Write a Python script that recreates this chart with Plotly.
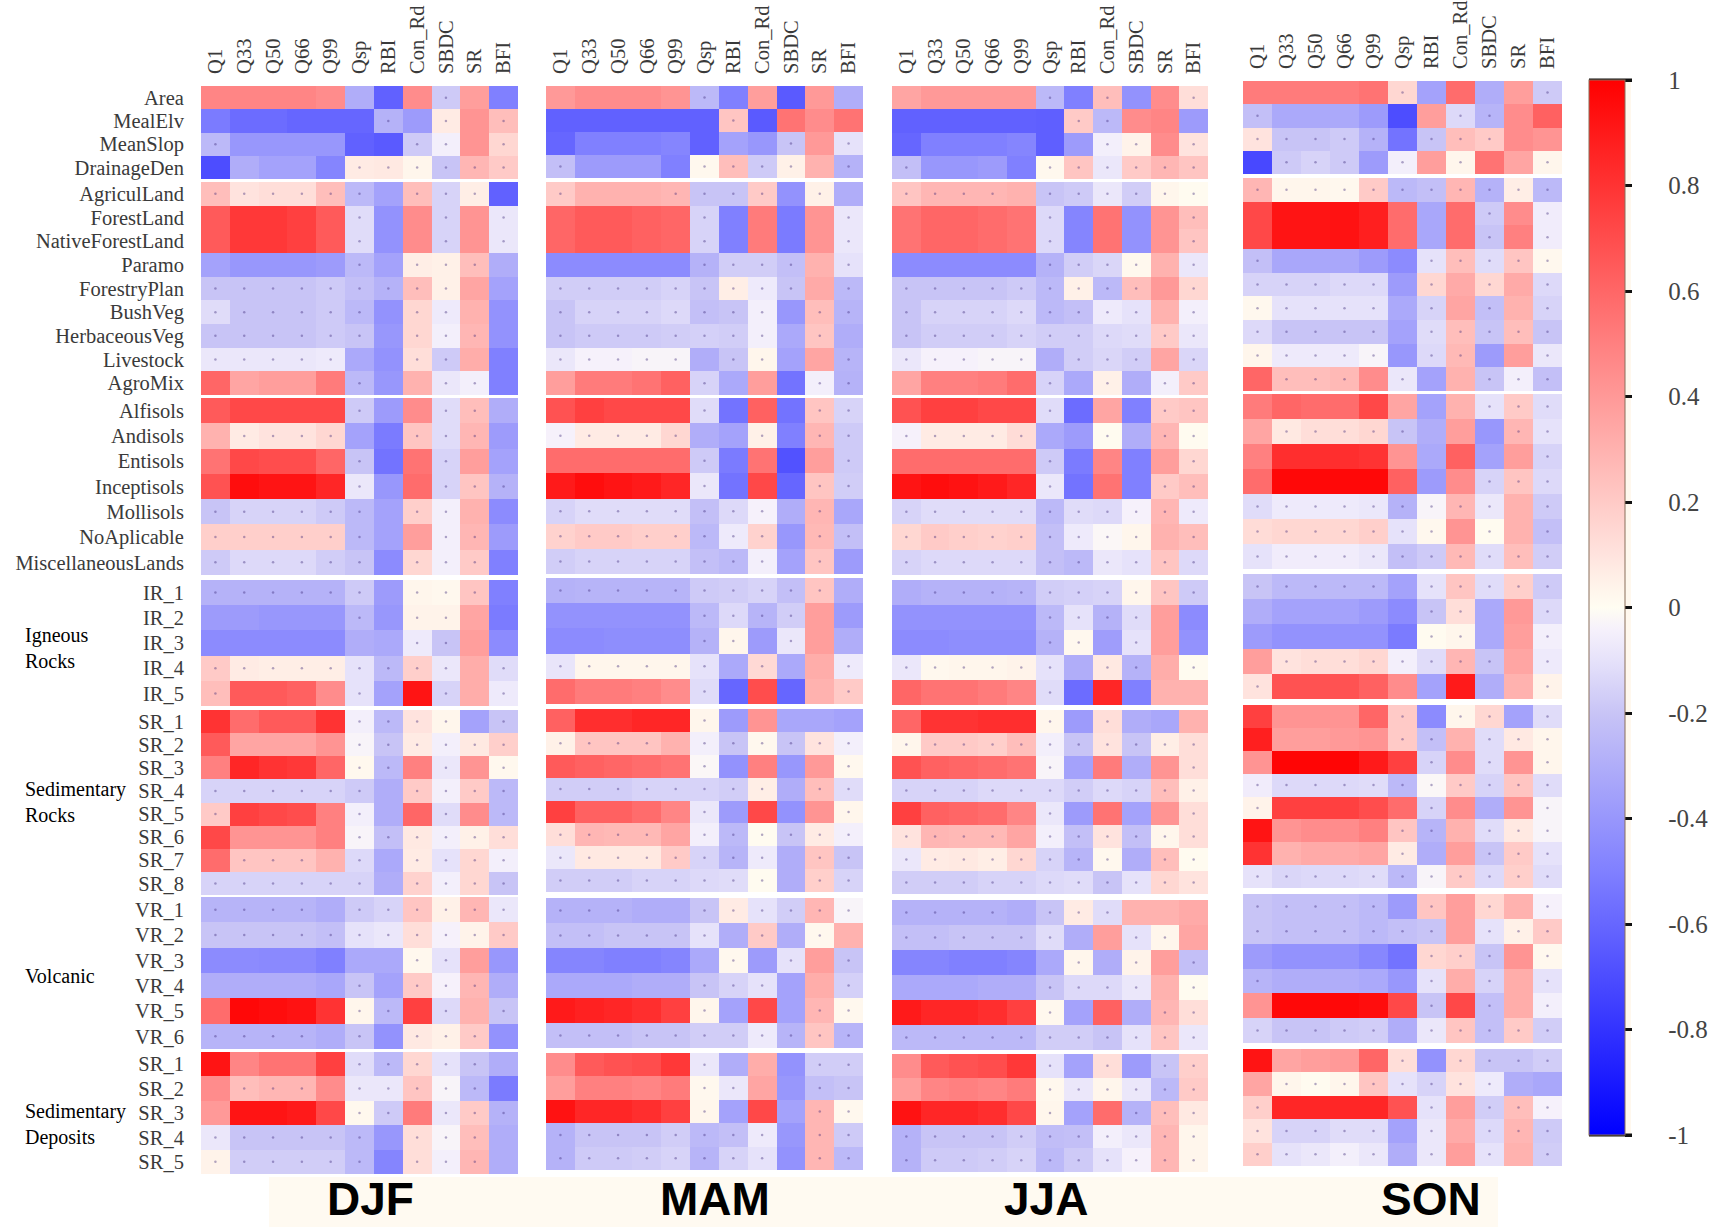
import plotly.graph_objects as go

COLUMNS = ["Q1", "Q33", "Q50", "Q66", "Q99", "Qsp", "RBI", "Con_Rd", "SBDC", "SR", "BFI"]
ROWS_A = ["Area", "MealElv", "MeanSlop", "DrainageDen"]
ROWS_B = ["AgriculLand", "ForestLand", "NativeForestLand", "Paramo", "ForestryPlan", "BushVeg", "HerbaceousVeg", "Livestock", "AgroMix"]
ROWS_C = ["Alfisols", "Andisols", "Entisols", "Inceptisols", "Mollisols", "NoAplicable", "MiscellaneousLands"]
ROWS_D = ["IR_1", "IR_2", "IR_3", "IR_4", "IR_5"]
ROWS_E = ["SR_1", "SR_2", "SR_3", "SR_4", "SR_5", "SR_6", "SR_7", "SR_8"]
ROWS_F = ["VR_1", "VR_2", "VR_3", "VR_4", "VR_5", "VR_6"]
ROWS_G = ["SR_1", "SR_2", "SR_3", "SR_4", "SR_5"]
ROW_GROUPS = [ROWS_A, ROWS_B, ROWS_C, ROWS_D, ROWS_E, ROWS_F, ROWS_G]
SEASONS = ["DJF", "MAM", "JJA", "SON"]
CBAR_TICKS = [1, 0.8, 0.6, 0.4, 0.2, 0, -0.2, -0.4, -0.6, -0.8, -1]
CBAR_TEXT = ["1", "0.8", "0.6", "0.4", "0.2", "0", "-0.2", "-0.4", "-0.6", "-0.8", "-1"]

DJF = [
[.48,.48,.48,.48,.45,-.3,-.62,.45,-.18,.38,-.5],
[-.52,-.58,-.58,-.6,-.6,-.6,-.28,-.38,.07,.42,.25],
[-.25,-.4,-.4,-.4,-.4,-.62,-.65,-.18,-.05,.42,.15],
[-.7,-.3,-.35,-.35,-.48,.07,.08,.03,-.2,.28,.2],
[.25,.1,.12,.12,.25,-.25,-.35,.25,-.15,.06,-.62],
[.65,.78,.78,.75,.65,-.12,-.42,.45,-.15,.42,-.08],
[.65,.78,.78,.75,.65,-.12,-.42,.45,-.15,.42,-.08],
[-.35,-.4,-.4,-.4,-.38,-.25,-.35,.06,.05,.25,-.3],
[-.2,-.2,-.2,-.2,-.18,-.22,-.28,.25,.05,.35,-.35],
[-.12,-.2,-.2,-.2,-.18,-.25,-.42,.15,-.07,.3,-.42],
[-.2,-.2,-.2,-.2,-.18,-.2,-.4,.15,-.05,.28,-.42],
[-.08,-.08,-.08,-.08,-.07,-.32,-.42,.12,-.18,.32,-.5],
[.6,.35,.38,.38,.52,-.25,-.4,.3,-.08,-.05,-.5],
[.65,.72,.72,.72,.72,-.18,-.38,.45,-.12,.25,-.3],
[.3,.07,.1,.1,.15,-.35,-.52,.22,-.12,.28,-.38],
[.55,.72,.7,.7,.6,-.2,-.55,.55,-.15,.38,-.35],
[.68,.95,.92,.92,.85,-.08,-.4,.58,-.15,.22,-.28],
[-.2,-.15,-.15,-.15,-.18,-.25,-.35,.18,-.05,.3,-.45],
[.18,.18,.18,.18,.18,-.25,-.35,.38,-.05,.28,-.38],
[-.18,-.13,-.13,-.13,-.17,-.2,-.45,.15,-.05,.2,-.5],
[-.28,-.28,-.28,-.28,-.28,-.18,-.38,.03,.02,.22,-.5],
[-.38,-.38,-.4,-.4,-.4,-.25,-.4,.04,.04,.35,-.52],
[-.45,-.45,-.45,-.45,-.45,-.3,-.32,-.07,-.2,.38,-.45],
[.2,.07,.06,.06,.06,-.1,-.25,.18,-.08,.32,-.12],
[.25,.65,.65,.62,.45,-.1,-.35,.92,-.15,.32,-.07],
[.8,.58,.65,.65,.8,-.05,-.25,.1,.03,-.35,-.2],
[.65,.35,.35,.35,.42,-.03,-.2,.07,-.05,.08,.18],
[.5,.85,.8,.78,.6,.02,-.25,.5,-.08,.42,.02],
[-.15,-.15,-.15,-.15,-.15,-.18,-.3,.2,-.05,.2,-.25],
[.2,.75,.72,.7,.5,-.05,-.3,.6,-.12,.45,-.25],
[.72,.42,.42,.42,.5,-.03,-.22,.08,-.05,.05,.12],
[.58,.22,.22,.22,.3,-.13,-.32,.07,-.1,.15,-.05],
[-.15,-.15,-.15,-.15,-.15,-.15,-.3,.17,-.05,.15,-.2],
[-.27,-.27,-.27,-.27,-.3,-.18,-.15,.22,.05,.28,-.08],
[-.2,-.2,-.2,-.2,-.22,-.1,-.08,.12,-.04,.04,.2],
[-.45,-.45,-.46,-.46,-.5,-.32,-.32,.02,-.1,.38,-.4],
[-.3,-.3,-.3,-.3,-.33,-.2,-.35,.2,-.04,.28,-.3],
[.58,.97,.95,.93,.8,.03,-.25,.75,-.13,.3,-.2],
[-.27,-.27,-.27,-.27,-.3,-.2,-.42,.08,.05,.2,-.42],
[.92,.48,.55,.55,.75,-.12,-.25,.15,-.1,-.2,-.3],
[.45,.25,.28,.28,.45,-.08,-.08,.22,-.03,-.25,-.52],
[.4,.92,.92,.9,.72,.02,-.18,.52,-.08,.2,-.28],
[-.08,-.2,-.2,-.2,-.2,-.25,-.4,.12,-.03,.25,-.3],
[.04,-.17,-.17,-.17,-.17,-.25,-.48,.12,-.05,.28,-.3],
]
MAM = [
[.4,.45,.45,.45,.42,-.25,-.5,.38,-.65,.4,-.3],
[-.62,-.62,-.62,-.62,-.62,-.62,.22,-.65,.55,.45,.55],
[-.6,-.5,-.5,-.5,-.48,-.62,-.35,-.4,-.2,.4,-.1],
[-.22,-.38,-.38,-.38,-.5,.02,.25,-.18,.05,.3,-.28],
[.2,.3,.3,.3,.28,-.2,-.2,.2,-.42,.05,-.3],
[.6,.65,.65,.62,.6,-.15,-.5,.52,-.52,.42,-.08],
[.6,.65,.65,.62,.6,-.15,-.5,.52,-.52,.42,-.08],
[-.45,-.45,-.45,-.45,-.45,-.28,-.17,-.17,-.22,.3,-.1],
[-.17,-.17,-.17,-.17,-.15,-.2,.06,-.07,-.2,.33,-.25],
[-.2,-.15,-.15,-.15,-.13,-.22,-.2,-.05,-.4,.25,-.27],
[-.2,-.18,-.18,-.18,-.17,-.16,-.17,-.05,-.32,.22,-.3],
[-.08,-.04,-.04,-.03,-.03,-.3,-.2,.03,-.35,.35,-.27],
[.38,.52,.52,.55,.62,-.15,-.32,.38,-.55,-.05,-.28],
[.68,.75,.72,.72,.72,-.12,-.55,.62,-.55,.22,-.15],
[-.04,.07,.07,.07,.15,-.3,-.35,.05,-.5,.28,-.18],
[.58,.58,.58,.58,.58,-.18,-.52,.55,-.68,.38,-.18],
[.9,.95,.92,.9,.85,-.08,-.55,.72,-.6,.22,-.17],
[-.15,-.12,-.12,-.12,-.12,-.22,-.13,-.04,-.3,.28,-.33],
[.17,.2,.2,.18,.18,-.25,-.07,.17,-.4,.27,-.22],
[-.17,-.15,-.15,-.15,-.15,-.22,-.25,-.05,-.35,.22,-.38],
[-.28,-.27,-.27,-.27,-.27,-.18,-.17,-.15,-.22,.22,-.3],
[-.42,-.42,-.42,-.42,-.42,-.25,-.13,-.27,-.17,.38,-.38],
[-.45,-.45,-.44,-.44,-.44,-.28,.03,-.38,-.08,.38,-.3],
[-.09,.03,.03,.03,.03,-.1,-.32,.14,-.32,.32,-.07],
[.58,.52,.52,.5,.45,-.12,-.6,.7,-.6,.3,.2],
[.62,.82,.82,.85,.85,.03,-.38,.42,-.33,-.33,-.35],
[.05,.22,.22,.22,.3,-.05,-.2,.02,-.2,.1,-.05],
[.65,.62,.6,.58,.55,-.02,-.42,.5,-.4,.4,.02],
[-.17,-.17,-.17,-.15,-.15,-.15,-.17,.06,-.3,.25,-.12],
[.75,.62,.62,.58,.48,-.08,-.38,.72,-.42,.42,.03],
[.12,.28,.27,.27,.35,-.05,-.25,.01,-.2,.07,-.05],
[-.08,.08,.08,.08,.2,-.15,-.27,-.07,-.3,.22,-.2],
[-.17,-.17,-.17,-.15,-.15,-.13,-.12,.01,-.3,.18,-.15],
[-.28,-.28,-.28,-.3,-.3,-.2,.07,-.1,-.17,.28,-.03],
[-.22,-.22,-.2,-.2,-.2,-.1,-.3,.2,-.3,.02,.3],
[-.48,-.48,-.5,-.5,-.48,-.32,.02,-.38,-.1,.38,-.2],
[-.32,-.32,-.32,-.3,-.3,-.2,-.15,-.1,-.35,.32,-.16],
[.9,.87,.85,.82,.75,.03,-.35,.72,-.35,.28,.02],
[-.22,-.22,-.22,-.2,-.2,-.17,-.17,-.07,-.27,.22,-.27],
[.45,.65,.68,.7,.78,-.08,-.3,.32,-.42,-.17,-.17],
[.38,.5,.5,.48,.52,.02,-.08,.35,-.4,-.22,-.2],
[.93,.85,.85,.82,.75,.03,-.35,.72,-.35,.28,.02],
[-.28,-.2,-.2,-.2,-.17,-.25,-.22,-.07,-.4,.28,-.18],
[-.28,-.18,-.18,-.17,-.15,-.27,-.15,-.1,-.42,.28,-.25],
]
JJA = [
[.35,.4,.4,.4,.4,-.25,-.5,.25,-.42,.45,.12],
[-.62,-.62,-.62,-.62,-.62,-.63,.2,-.25,.45,.48,-.38],
[-.6,-.5,-.5,-.5,-.48,-.63,-.38,-.05,.04,.45,.1],
[-.22,-.4,-.4,-.38,-.5,.02,.22,-.08,.2,.28,.22],
[.22,.28,.28,.28,.3,-.2,-.18,-.08,-.17,.03,.01],
[.55,.6,.6,.58,.55,-.13,-.48,.55,-.42,.42,.25],
[.55,.6,.6,.58,.55,-.13,-.48,.55,-.42,.42,.22],
[-.45,-.45,-.45,-.45,-.45,-.28,-.17,-.14,.02,.3,-.08],
[-.2,-.2,-.2,-.2,-.18,-.25,.05,-.25,.25,.4,.15],
[-.2,-.15,-.15,-.15,-.13,-.25,-.22,-.07,-.1,.3,-.05],
[-.2,-.17,-.17,-.17,-.15,-.17,-.17,-.13,-.12,.2,-.08],
[-.08,-.04,-.04,-.03,-.03,-.3,-.17,-.14,-.17,.35,-.14],
[.35,.5,.5,.52,.58,-.15,-.32,.05,-.3,-.05,.2],
[.68,.75,.75,.72,.72,-.12,-.58,.35,-.5,.2,.22],
[-.04,.07,.07,.07,.13,-.32,-.38,.01,-.3,.28,.01],
[.58,.58,.58,.58,.58,-.18,-.52,.48,-.5,.38,.15],
[.92,.95,.93,.9,.85,-.08,-.55,.55,-.5,.2,.25],
[-.15,-.12,-.12,-.12,-.12,-.25,-.12,-.13,-.04,.28,-.07],
[.15,.2,.18,.17,.18,-.22,-.07,-.02,.03,.3,.25],
[-.15,-.13,-.13,-.13,-.13,-.22,-.25,-.08,-.1,.22,-.13],
[-.3,-.28,-.28,-.28,-.27,-.17,-.16,-.15,.03,.22,-.18],
[-.42,-.42,-.42,-.42,-.42,-.25,-.1,-.28,-.12,.38,-.45],
[-.45,-.45,-.44,-.44,-.44,-.28,.02,-.37,-.1,.38,-.42],
[-.08,.02,.03,.03,.04,-.1,-.3,.08,-.28,.32,.01],
[.6,.55,.55,.52,.48,-.12,-.58,.85,-.5,.3,.3],
[.6,.8,.8,.82,.82,.03,-.38,.12,-.3,-.33,.3],
[.03,.2,.2,.18,.25,-.05,-.2,.1,-.2,.06,.12],
[.68,.62,.6,.58,.55,-.03,-.35,.52,-.3,.42,.12],
[-.15,-.15,-.15,-.13,-.13,-.13,-.17,-.13,-.15,.25,.05],
[.75,.62,.6,.58,.48,-.08,-.38,.55,-.35,.42,.12],
[.1,.28,.27,.27,.35,-.05,-.22,.1,-.22,.03,.12],
[-.08,.07,.08,.06,.15,-.15,-.27,.02,-.3,.25,.01],
[-.17,-.17,-.17,-.15,-.15,-.13,-.12,-.2,-.1,.15,.1],
[-.28,-.28,-.28,-.28,-.3,-.2,.07,-.12,.3,.3,.33],
[-.22,-.22,-.2,-.2,-.2,-.12,-.3,.38,-.1,.03,.35],
[-.48,-.48,-.5,-.5,-.48,-.32,.03,-.3,.04,.38,-.22],
[-.32,-.32,-.32,-.3,-.3,-.2,-.13,-.13,-.08,.3,.01],
[.9,.85,.85,.82,.75,.02,-.35,.62,-.3,.28,.12],
[-.25,-.25,-.25,-.25,-.25,-.17,-.17,-.2,-.1,.22,-.08],
[.45,.65,.68,.7,.78,-.1,-.35,.12,-.38,-.2,.18],
[.38,.48,.5,.48,.52,.02,-.08,.03,-.08,-.25,.2],
[.93,.85,.85,.82,.72,.03,-.35,.58,-.28,.25,.08],
[-.28,-.2,-.2,-.2,-.17,-.23,-.22,-.05,-.08,.28,.03],
[-.28,-.18,-.18,-.17,-.15,-.25,-.18,-.1,-.04,.28,.03],
]
SON = [
[.52,.52,.52,.52,.55,.15,-.35,.58,-.3,.38,-.18],
[-.22,-.32,-.32,-.32,-.38,-.7,.38,-.13,-.27,.45,.62],
[.1,-.2,-.2,-.18,-.28,-.55,-.2,.25,.2,.45,.42],
[-.72,-.18,-.15,-.18,-.38,-.05,.38,.03,.55,.35,.03],
[.28,.03,.03,.02,.2,-.25,-.22,.28,-.28,.06,-.25],
[.72,.92,.92,.93,.88,.58,-.33,.58,-.18,.45,-.06],
[.72,.92,.92,.93,.88,.58,-.33,.58,-.2,.5,-.06],
[-.22,-.33,-.33,-.33,-.38,-.45,-.1,.25,-.12,.22,.02],
[-.15,-.15,-.15,-.13,-.13,-.38,.15,.33,.15,.33,-.13],
[.02,-.1,-.1,-.1,-.1,-.32,-.15,.35,-.22,.3,-.15],
[-.13,-.2,-.2,-.2,-.2,-.35,-.12,.25,-.2,.25,-.2],
[.03,-.07,-.07,-.07,-.03,-.4,-.13,.27,-.38,.38,-.08],
[.6,.25,.25,.27,.45,-.08,-.35,.3,-.2,-.05,-.22],
[.52,.6,.58,.58,.72,.35,-.35,.3,-.1,.2,-.12],
[.35,.08,.12,.12,.15,-.2,-.3,.38,-.4,.28,-.1],
[.5,.82,.82,.82,.8,.42,-.32,.62,-.35,.38,-.15],
[.58,.97,.97,.97,.97,.62,-.38,.45,-.15,.22,-.13],
[-.12,-.07,-.07,-.07,-.08,-.28,-.03,.28,-.08,.3,-.18],
[.13,.15,.15,.15,.18,-.1,.02,.42,.01,.3,-.22],
[-.1,-.06,-.06,-.06,-.08,-.22,-.18,.27,-.12,.25,-.17],
[-.2,-.25,-.25,-.25,-.25,-.35,-.1,.22,-.12,.18,-.18],
[-.3,-.35,-.35,-.35,-.38,-.45,-.2,.12,-.32,.4,-.13],
[-.38,-.42,-.42,-.42,-.42,-.52,.01,.03,-.32,.38,-.05],
[.38,.1,.12,.12,.15,-.05,-.12,.28,-.2,.35,-.07],
[.1,.68,.68,.68,.62,.45,-.35,.9,-.3,.3,.04],
[.75,.42,.42,.42,.6,.2,-.45,.03,.15,-.35,-.12],
[.88,.38,.38,.4,.42,.2,-.22,.3,-.12,.08,.03],
[.42,.98,.98,.98,.9,.75,-.15,.45,-.12,.42,.03],
[-.06,-.13,-.13,-.13,-.12,-.25,-.02,.2,-.15,.22,-.12],
[.04,.75,.75,.75,.7,.58,-.15,.45,-.3,.42,-.03],
[.92,.42,.45,.45,.5,.22,-.27,.3,-.12,.08,-.03],
[.8,.3,.33,.33,.35,.07,-.3,.38,-.2,.2,-.1],
[-.1,-.14,-.13,-.13,-.12,-.25,-.03,.2,-.13,.18,-.12],
[-.2,-.22,-.22,-.22,-.25,-.38,.22,.38,.15,.3,-.04],
[-.2,-.22,-.22,-.22,-.25,-.22,-.2,.38,-.1,.05,.2],
[-.38,-.42,-.42,-.42,-.47,-.55,.15,.18,-.2,.42,.02],
[-.27,-.3,-.3,-.3,-.32,-.4,-.1,.32,-.15,.32,-.1],
[.42,.97,.97,.97,.95,.72,-.2,.72,-.22,.32,-.05],
[-.15,-.2,-.2,-.18,-.17,-.3,-.08,.22,-.22,.2,-.17],
[.92,.35,.38,.4,.6,.12,-.42,.15,-.2,-.2,-.17],
[.35,.03,.01,.03,.22,-.1,-.15,.1,-.07,-.3,-.33],
[.18,.85,.85,.85,.85,.68,-.1,.38,-.17,.25,-.04],
[.1,-.15,-.15,-.12,-.12,-.35,-.08,.33,-.13,.28,-.18],
[.18,-.1,-.08,-.05,-.08,-.3,-.08,.38,-.1,.3,-.17],
]
SEASON_DATA = [DJF, MAM, JJA, SON]

# ---------- layout geometry (pixels in the page) ----------
W, H = 1718, 1227
PANEL_X = [(201, 518), (546, 863), (892, 1208), (1243, 1562)]
PANEL_Y = [
    [(86, 179), (182, 395), (398, 575), (580, 706), (710, 895), (897, 1049), (1052, 1174)],
    [(86, 178), (182, 395), (398, 574), (578, 704), (709, 892), (898, 1048), (1053, 1170)],
    [(86, 179), (182, 395), (398, 575), (580, 705), (710, 894), (900, 1050), (1054, 1172)],
    [(81, 174), (178, 391), (394, 569), (574, 699), (705, 888), (894, 1043), (1049, 1166)],
]
SERIF = "Liberation Serif"
TEXT = "#3a3a3a"
COLORSCALE = [
    [0.0, "#0000ff"], [0.25, "#8080ff"], [0.4, "#c8c4f6"], [0.45, "#e6e2fa"], [0.48, "#f6f1fb"],
    [0.5, "#fffdf2"], [0.525, "#fff1e8"], [0.55, "#ffe3de"], [0.75, "#ff8080"], [1.0, "#ff0000"],
]

fig = go.Figure()
layout = {}
n = 0
for s, (name, data) in enumerate(zip(SEASONS, SEASON_DATA)):
    start = 0
    for g, rows in enumerate(ROW_GROUPS):
        n += 1
        z = data[start:start + len(rows)]
        start += len(rows)
        xa, ya = f"x{n}", f"y{n}"
        fig.add_trace(go.Heatmap(z=z, x=COLUMNS, y=rows, xaxis=xa, yaxis=ya,
                                 coloraxis="coloraxis", xgap=0, ygap=0,
                                 hovertemplate="%{y} / %{x}: %{z}<extra>" + name + "</extra>"))
        # faint significance dots in the weak-correlation cells
        dx, dy = [], []
        for r, row in enumerate(z):
            for c, v in enumerate(row):
                if abs(v) < 0.3:
                    dx.append(COLUMNS[c])
                    dy.append(rows[r])
        fig.add_trace(go.Scatter(x=dx, y=dy, xaxis=xa, yaxis=ya, mode="markers", hoverinfo="skip",
                                 marker=dict(size=2.5, color="rgba(60,40,120,0.40)", line_width=0),
                                 showlegend=False))
        x0, x1 = PANEL_X[s]
        y0, y1 = PANEL_Y[s][g]
        layout["xaxis" + ("" if n == 1 else str(n))] = dict(
            domain=[x0 / W, x1 / W], anchor=ya, side="top", type="category",
            categoryorder="array", categoryarray=COLUMNS,
            range=[-0.5, len(COLUMNS) - 0.5],
            tickmode="array", tickvals=COLUMNS, ticktext=COLUMNS,
            showgrid=False, zeroline=False, showline=False,
            visible=g == 0, tickangle=-90, ticks="outside", ticklen=7,
            tickcolor="rgba(0,0,0,0)", tickfont=dict(family=SERIF, size=20.5, color=TEXT))
        layout["yaxis" + ("" if n == 1 else str(n))] = dict(
            domain=[1 - y1 / H, 1 - y0 / H], anchor=xa, type="category",
            categoryorder="array", categoryarray=rows,
            range=[len(rows) - 0.5, -0.5],
            tickmode="array", tickvals=rows, ticktext=rows,
            showgrid=False, zeroline=False, showline=False,
            visible=s == 0, ticks="outside", ticklen=12,
            tickcolor="rgba(0,0,0,0)", tickfont=dict(family=SERIF, size=20.5, color=TEXT))

CB_X0, CB_X1, CB_Y0, CB_Y1 = 1589, 1625, 80, 1135
layout["coloraxis"] = dict(
    cmin=-1, cmax=1, colorscale=COLORSCALE,
    colorbar=dict(
        x=CB_X0 / W, xanchor="left", xpad=0, ypad=0,
        y=1 - CB_Y1 / H, yanchor="bottom",
        len=(CB_Y1 - CB_Y0) / H, lenmode="fraction",
        thickness=CB_X1 - CB_X0, thicknessmode="pixels",
        outlinecolor="#8a6f5a", outlinewidth=1,
        tickvals=CBAR_TICKS,
        ticktext=["\u00a0" * 5 + t for t in CBAR_TEXT],
        ticks="outside", ticklen=7, tickwidth=3, tickcolor="#111111",
        tickfont=dict(family=SERIF, size=25, color="#444444"),
    ),
)

shapes = [
    dict(type="rect", xref="paper", yref="paper", layer="below",
         x0=269 / W, x1=1498 / W, y0=0, y1=1 - 1177 / H,
         fillcolor="#fffaf1", line_width=0),
    dict(type="rect", xref="paper", yref="paper", layer="below",
         x0=CB_X1 / W, x1=(CB_X1 + 6) / W, y0=1 - CB_Y1 / H, y1=1 - CB_Y0 / H,
         fillcolor="#fff8ee", line_width=0),
]
for yy in (CB_Y0, CB_Y1):
    shapes.append(dict(type="line", xref="paper", yref="paper", layer="above",
                       x0=CB_X0 / W, x1=(CB_X1 + 7) / W, y0=1 - yy / H, y1=1 - yy / H,
                       line=dict(color="#111111", width=3)))

annotations = []
for label, cx in zip(SEASONS, [370, 715, 1046, 1431]):
    annotations.append(dict(text=f"<b>{label}</b>", xref="paper", yref="paper", x=cx / W, y=1 - 1199 / H,
                            xanchor="center", yanchor="middle", showarrow=False,
                            font=dict(family="Liberation Sans", size=46, color="#000000")))
for label, cy in [("Igneous<br>Rocks", 648), ("Sedimentary<br>Rocks", 802),
                  ("Volcanic", 976), ("Sedimentary<br>Deposits", 1124)]:
    annotations.append(dict(text=label, xref="paper", yref="paper", x=23 / W, y=1 - cy / H,
                            xanchor="left", yanchor="middle", align="left", showarrow=False,
                            font=dict(family=SERIF, size=20, color="#000000")))

fig.update_layout(width=W, height=H, margin=dict(l=0, r=0, t=0, b=0, autoexpand=False), autosize=False,
                  paper_bgcolor="white", plot_bgcolor="white", showlegend=False,
                  shapes=shapes, annotations=annotations, **layout)

fig.write_html("out.html", config={"displayModeBar": False},
               post_script="document.body.style.margin='0';")
